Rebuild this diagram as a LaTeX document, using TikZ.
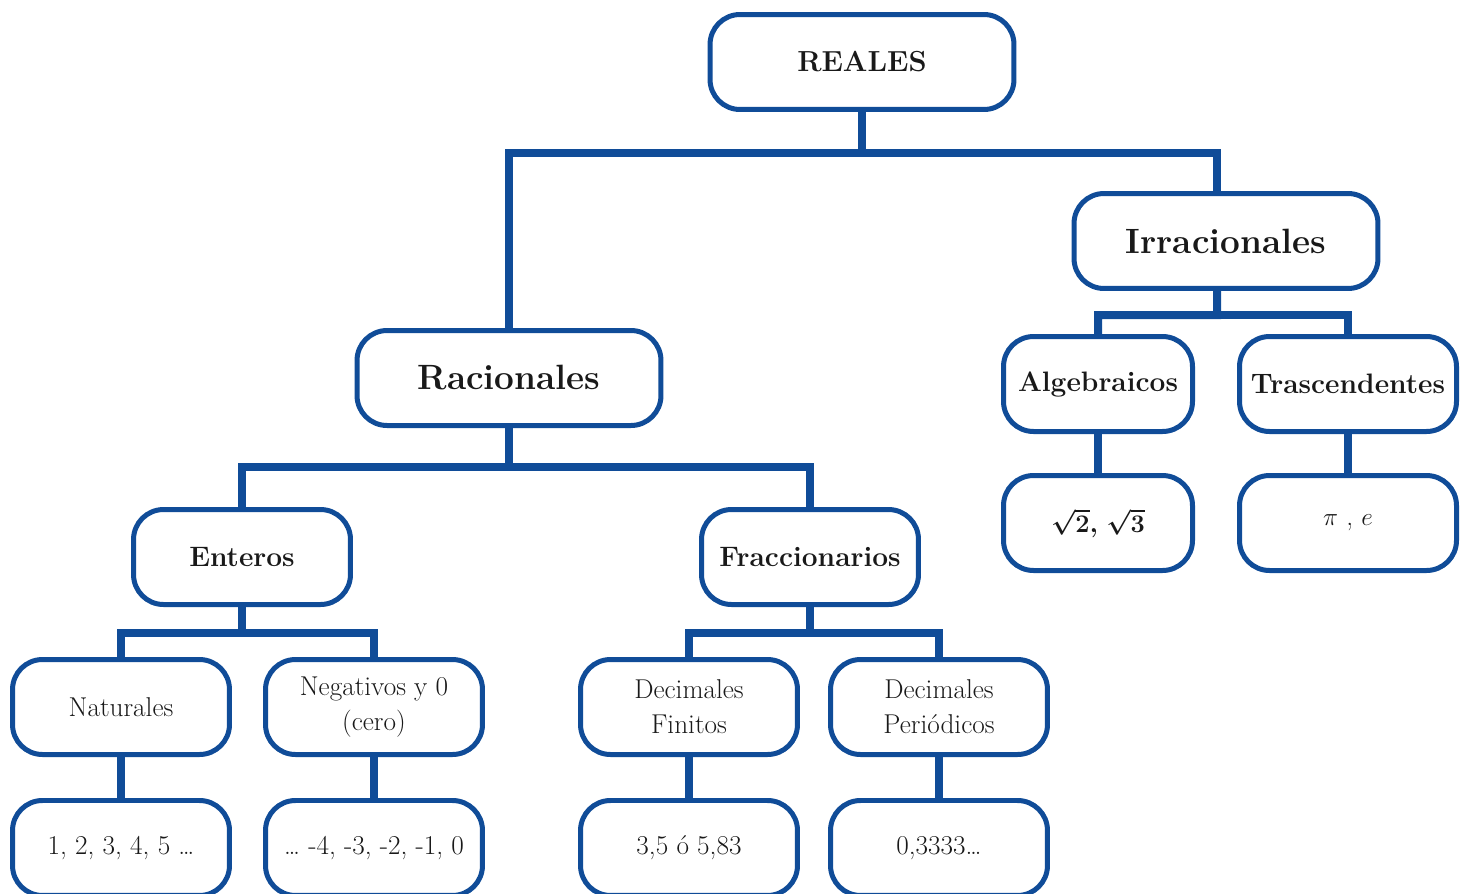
\documentclass[tikz,border=0pt]{standalone}
\usepackage{tikz}
\usepackage{bm}
\usetikzlibrary{positioning, calc}
\definecolor{real_blue}{RGB}{16,76,152}
\colorlet{realblue}{real_blue}
\tikzset{
  setbox/.style={rectangle,rounded corners=0.6cm,draw=realblue,line width=0.1cm,fill=white,align=center,text=black!90,inner sep=0pt},
  setbig/.style={setbox,minimum width=6.08cm,minimum height=1.9cm,font=\fontsize{20}{24}\selectfont\bfseries},
  setmid/.style={setbox,minimum width=4.34cm,minimum height=1.9cm,font=\fontsize{16}{18}\selectfont\bfseries},
  setnarrow/.style={setmid,minimum width=3.78cm},
  setsub/.style={setbox,minimum width=4.34cm,minimum height=1.9cm,font=\fontsize{15.5}{20}\selectfont},
  setsubnarrow/.style={setsub,minimum width=3.78cm},
  link/.style={draw=realblue,line width=0.16cm},
}
\begin{document}
\begin{tikzpicture}[x=0.02cm,y=-0.02cm]
	    \useasboundingbox (0,0) rectangle (1469,893);
	    % top levels
	    \node[setbig,font=\fontsize{16.5}{20}\selectfont\bfseries] (reales) at (862,62) {REALES};
	    \node[setbig] (irracionales) at (1226,241) {Irracionales};
	    \node[setbig] (racionales) at (509,378) {Racionales};
	    % irracionales
	    \node[setnarrow] (algebraicos) at (1098,384) {Algebraicos};
	    \node[setmid] (trascendentes) at (1348,384) {Trascendentes};
	    \node[setsubnarrow] (raices) at (1098,523) {$\bm{\sqrt{2}}$\textbf{,} $\bm{\sqrt{3}}$};
	    \node[setsub] (pie) at (1348,523) {$\pi$ , $e$};
	    % racionales
	    \node[setmid] (enteros) at (242,557) {Enteros};
	    \node[setmid] (fraccionarios) at (810,557) {Fraccionarios};
	    \node[setsub] (naturales) at (121,707) {Naturales};
	    \node[setsub] (negativos) at (374,707) {Negativos y 0\\(cero)};
	    \node[setsub] (finitos) at (689,707) {Decimales\\Finitos};
	    \node[setsub] (periodicos) at (939,707) {Decimales\\Peri\'odicos};
	    \node[setsub,below=0.82cm of naturales] (natex) {1, 2, 3, 4, 5 \dots};
	    \node[setsub,below=0.82cm of negativos] (negex) {\dots\ -4, -3, -2, -1, 0};
	    \node[setsub,below=0.82cm of finitos] (finex) {3,5 \'o 5,83};
	    \node[setsub,below=0.82cm of periodicos] (perex) {0,3333\dots};
	    % connectors
	    \coordinate (f1) at (862,153);
	    \coordinate (f2) at (1217,315);
	    \coordinate (f3) at (509,467);
	    \coordinate (f4) at (242,633);
	    \coordinate (f5) at (810,633);
	    \draw[link] (reales.south) -- (f1) -| (racionales.north);
	    \draw[link] (f1) -| ([xshift=-0.18cm]irracionales.north);
	    \draw[link] ([xshift=-0.18cm]irracionales.south) -- (f2) -| (algebraicos.north);
	    \draw[link] (f2) -| (trascendentes.north);
	    \draw[link] (racionales.south) -- (f3) -| (enteros.north);
	    \draw[link] (f3) -| (fraccionarios.north);
	    \draw[link] (enteros.south) -- (f4) -| (naturales.north);
	    \draw[link] (f4) -| (negativos.north);
	    \draw[link] (fraccionarios.south) -- (f5) -| (finitos.north);
	    \draw[link] (f5) -| (periodicos.north);
	    \draw[link] (algebraicos) -- (raices);
	    \draw[link] (trascendentes) -- (pie);
	    \draw[link] (naturales) -- (natex);
	    \draw[link] (negativos) -- (negex);
	    \draw[link] (finitos) -- (finex);
	    \draw[link] (periodicos) -- (perex);
	\end{tikzpicture}
\end{document}
